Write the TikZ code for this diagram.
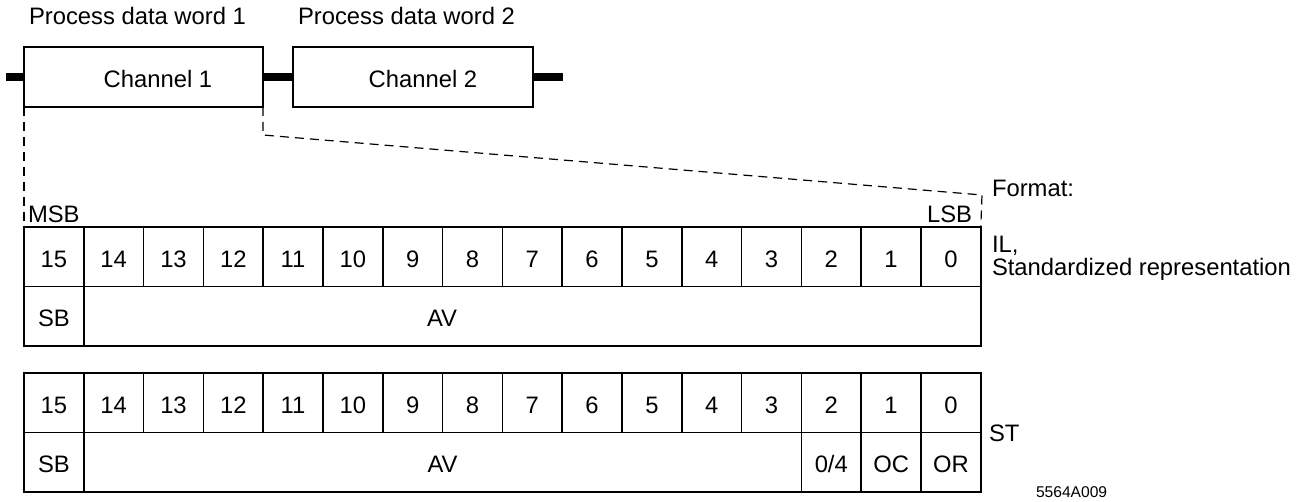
\documentclass[tikz,border=0pt]{standalone}
\usepackage{fontspec}
\setmainfont{Liberation Sans}
\begin{document}
\begin{tikzpicture}[x=0.5pt,y=-0.5pt,
  txt/.style={inner sep=0pt,outer sep=0pt,font=\fontsize{11.9}{14}\selectfont},
  small/.style={inner sep=0pt,outer sep=0pt,font=\fontsize{7.8}{9}\selectfont},
  cell/.style={draw,line width=0.75pt,minimum width=29.9pt,minimum height=29.75pt,
    inner sep=0pt,outer sep=0pt,anchor=north west,text height=10.6pt,text depth=0pt,
    font=\fontsize{11.9}{14}\selectfont},
  lbl/.style={inner sep=0pt,outer sep=0pt,text height=10.6pt,text depth=0pt,
    font=\fontsize{11.9}{14}\selectfont},
  chbox/.style={draw,line width=0.7pt,minimum height=30pt,inner sep=0pt,outer sep=0pt,anchor=north west},
  busline/.style={line width=3.8pt},
  dashline/.style={line width=0.6pt,dash pattern=on 4.5pt off 3pt}
]
\useasboundingbox (0,0) rectangle (1308,502);

% top labels
\node[txt,anchor=base west] (pdw1) at (29,25) {Process data word 1};
\node[txt,anchor=base west] (pdw2) at (298,25) {Process data word 2};

% channel boxes
\node[chbox,minimum width=119.5pt] (ch1) at (24,47) {};
\node[chbox,minimum width=120pt] (ch2) at (293,47) {};
\node[txt,anchor=base] (ch1t) at (158,88) {Channel 1};
\node[txt,anchor=base] (ch2t) at (423,88) {Channel 2};

\coordinate (l0) at (6,77);
\coordinate (r0) at (563,77);
\draw[busline] (l0) -- (ch1.west);
\draw[busline] (ch1.east) -- (ch2.west);
\draw[busline] (ch2.east) -- (r0);

% table 1
\foreach \i in {0,...,15} {
  \pgfmathtruncatemacro\b{15-\i}
  \node[cell] (ta\b) at ({24+59.8*\i},227) {\b};
}
\node[cell] (tasb) at (24,286.5) {SB};
\node[cell,minimum width=448.5pt] (taav) at (83.8,286.5) {};
\node[lbl] (taavt) at (442,316.25) {AV};

% table 2
\foreach \i in {0,...,15} {
  \pgfmathtruncatemacro\b{15-\i}
  \node[cell] (tb\b) at ({24+59.8*\i},373) {\b};
}
\node[cell] (tbsb) at (24,432.5) {SB};
\node[cell,minimum width=358.8pt] (tbav) at (83.8,432.5) {AV};
\node[cell] (tb04) at (801.4,432.5) {0/4};
\node[cell] (tboc) at (861.2,432.5) {OC};
\node[cell] (tbor) at (921,432.5) {OR};

% dashed zoom lines
\coordinate (d1) at (263,135);
\coordinate (d2) at (982,195);
\draw[dashline] (ch1.south west) -- (ta15.north west);
\draw[dashline] (ch1.south east) -- (d1) -- (d2) -- (ta0.north east);

% MSB / LSB
\node[txt,anchor=base west] (msb) at (28,223) {MSB};
\node[txt,anchor=base east] (lsb) at (972,223) {LSB};

% right labels
\node[txt,anchor=base west] (fmt) at (992,197) {Format:};
\node[txt,anchor=base west] (il) at (992,253) {IL,};
\node[txt,anchor=base west] (std) at (992,276) {Standardized representation};
\node[txt,anchor=base west] (st) at (989,442) {ST};
\node[small,anchor=base west] (code) at (1036,498) {5564A009};
\end{tikzpicture}
\end{document}
